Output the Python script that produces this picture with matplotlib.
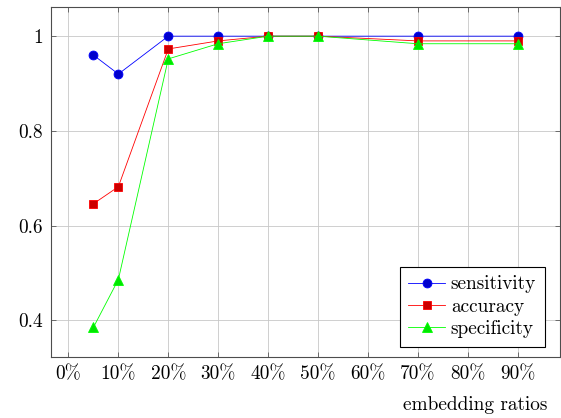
import matplotlib
matplotlib.use("Agg")
import matplotlib.pyplot as plt

# embedding ratio in percent
ratios = [5, 10, 20, 30, 40, 50, 70, 90]
sensitivity = [0.96, 0.92, 1.0, 1.0, 1.0, 1.0, 1.0, 1.0]
accuracy = [0.646, 0.682, 0.973, 0.99, 1.0, 1.0, 0.99, 0.99]
specificity = [0.385, 0.486, 0.952, 0.984, 1.0, 1.0, 0.984, 0.984]

xticks = [0, 10, 20, 30, 40, 50, 60, 70, 80, 90]
xticklabels = ["0%", "10%", "20%", "30%", "40%", "50%", "60%", "70%", "80%", "90%"]
yticks = [0.4, 0.6, 0.8, 1.0]
yticklabels = ["0.4", "0.6", "0.8", "1"]

plt.rcParams['font.family'] = ['cmr10', 'DejaVu Serif']
plt.rcParams['axes.formatter.use_mathtext'] = True
plt.rcParams['font.size'] = 13.9

LW = 0.6
fig = plt.figure(figsize=(5.61, 4.18), dpi=100)
ax = fig.add_axes([51 / 561, (418 - 357) / 418, 509 / 561, 350 / 418])

ax.plot(ratios, sensitivity, color=(0, 0, 1), lw=LW, marker='o', ms=6.4,
        mfc=(0, 0, 0.8), mec=(0, 0, 1), mew=LW, label='sensitivity')
ax.plot(ratios, accuracy, color=(1, 0, 0), lw=LW, marker='s', ms=5.8,
        mfc=(0.8, 0, 0), mec=(1, 0, 0), mew=LW, label='accuracy')
ax.plot(ratios, specificity, color=(0, 1, 0), lw=LW, marker='^', ms=6.6,
        mfc=(0, 0.9, 0), mec=(0, 1, 0), mew=LW, label='specificity')

ax.set_xlim(-3.5, 98.5)
ax.set_ylim(0.3224, 1.0616)
ax.set_xticks(xticks)
ax.set_xticklabels(xticklabels)
ax.set_yticks(yticks)
ax.set_yticklabels(yticklabels)

ax.grid(True, color=(0.78, 0.78, 0.78), lw=LW)
ax.set_axisbelow(True)
ax.tick_params(direction='in', length=3.9, width=LW, color=(0.35, 0.35, 0.35),
               top=True, right=True, pad=6)
for sp in ax.spines.values():
    sp.set_linewidth(0.8)
    sp.set_color((0.3, 0.3, 0.3))

fig.text(547 / 561, 1 - 405 / 418, 'embedding ratios', ha='right', va='center')

leg = ax.legend(loc='lower right', bbox_to_anchor=(0.97, 0.03), borderaxespad=0,
                fancybox=False, edgecolor='black', framealpha=1,
                handlelength=1.9, handletextpad=0.3, labelspacing=0.22,
                borderpad=0.45)
leg.get_frame().set_linewidth(0.8)

fig.savefig('out.png', dpi=100)
